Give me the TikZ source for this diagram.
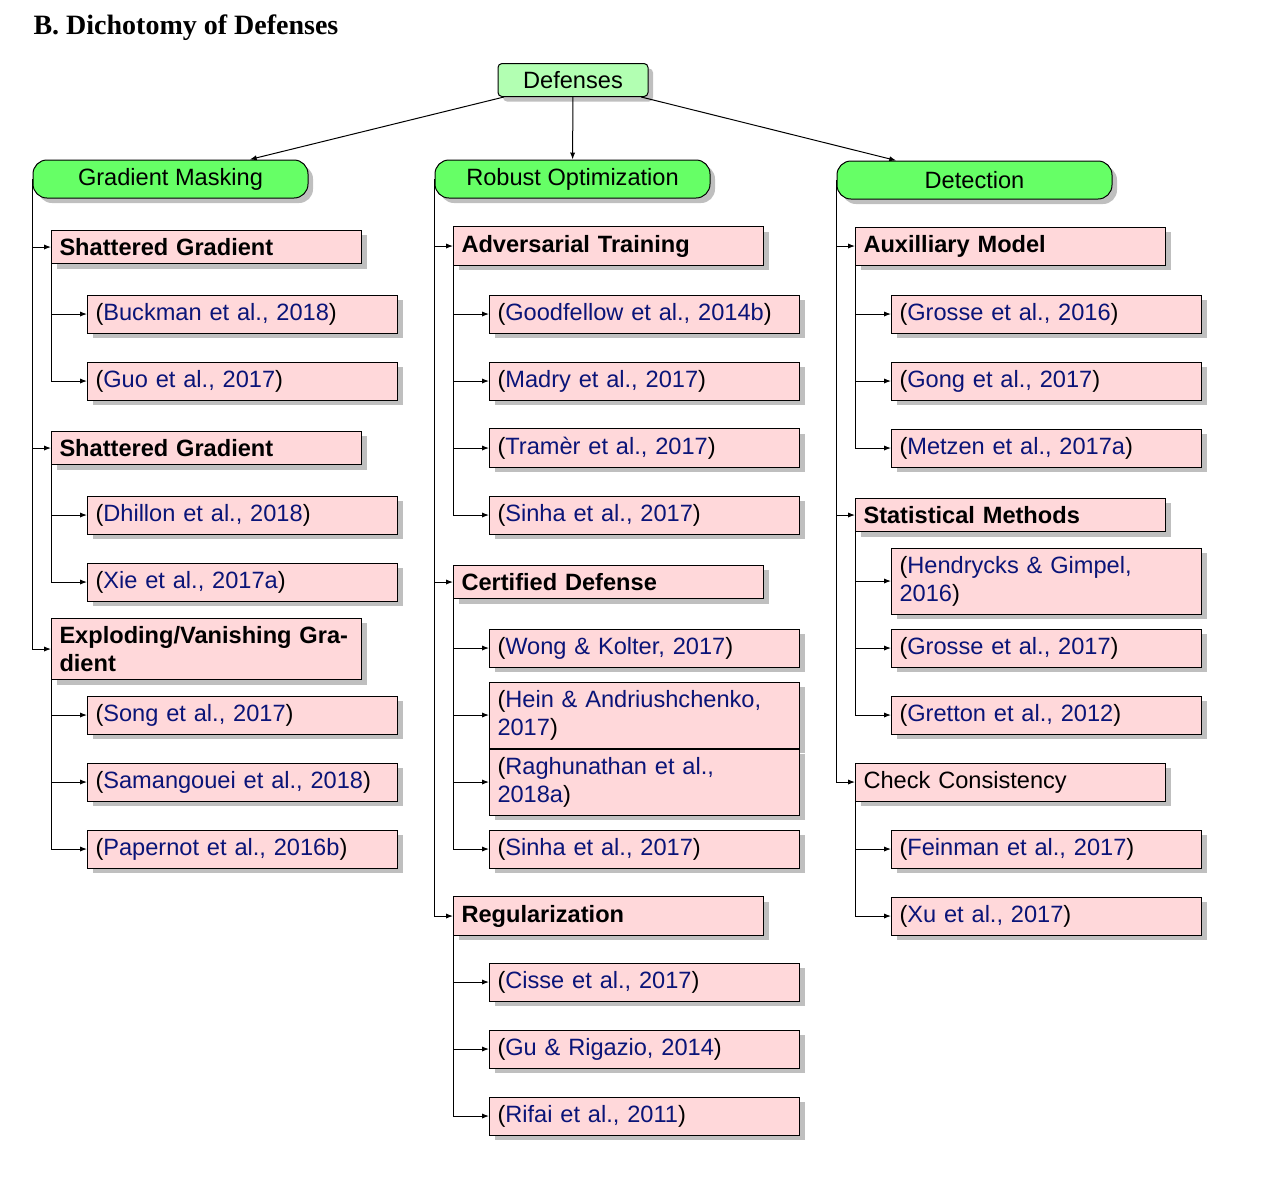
\documentclass[tikz,border=0pt]{standalone}
\usepackage{fontspec}
\setmainfont{Liberation Sans}
\newfontfamily\titlefont{Liberation Serif}
\usetikzlibrary{shadows,arrows.meta}

\definecolor{rootgreen}{RGB}{178,255,178}
\definecolor{catgreen}{RGB}{102,255,102}
\definecolor{boxpink}{RGB}{255,216,218}
\definecolor{citeblue}{RGB}{10,20,120}
\newcommand{\citeit}[1]{(\textcolor{citeblue}{#1})}
\newcommand{\boxfont}{\fontsize{11.8pt}{14pt}\selectfont}

\tikzset{
  shade box/.style={drop shadow={shadow xshift=2.5pt,shadow yshift=-2.5pt,fill=black!25,opacity=1}},
  root/.style={draw,fill=rootgreen,rounded corners=2pt,minimum width=75pt,minimum height=16.5pt,shade box},
  cat/.style={draw,fill=catgreen,rounded corners=7pt,minimum width=137.5pt,minimum height=19pt,shade box},
  sub/.style={draw,fill=boxpink,anchor=west,inner sep=4pt,text width=147pt,align=left,font=\boxfont\bfseries,shade box},
  subplain/.style={sub,font=\boxfont},
  leaf/.style={draw,fill=boxpink,anchor=west,inner sep=4pt,text width=147pt,align=left,shade box},
  arr/.style={-{Latex[length=3.5pt,width=2.6pt]},line width=0.5pt}
}

\begin{document}
\begin{tikzpicture}[x=0.5pt,y=-0.5pt,line width=0.5pt,font=\boxfont]
  \useasboundingbox (0,0) rectangle (1274,1180);

  \node[anchor=west,inner sep=0pt,font=\titlefont\bfseries\fontsize{14pt}{16pt}\selectfont] (title) at (33,28) {B. Dichotomy of Defenses};

  % root and the three families
  \node[root] (def) at (573,80) {Defenses};
  \node[cat] (gm) at (170.5,179) {Gradient Masking};
  \node[cat] (ro) at (572.5,179) {Robust Optimization};
  \node[cat] (det) at (974.5,180) {Detection};
  \foreach \c in {gm,ro,det}
    \draw[arr] (def) -- (\c);

  % second level
  \foreach \n/\p/\x/\y/\t in {sg1/gm/51/247/{Shattered Gradient},
                              sg2/gm/51/448/{Shattered Gradient},
                              evg/gm/51/649/{Exploding/Vanishing Gra-\\dient},
                              at/ro/453/246/{Adversarial Training},
                              cd/ro/453/582/{Certified Defense},
                              reg/ro/453/916/{Regularization},
                              aux/det/855/246/{Auxilliary Model},
                              stat/det/855/515/{Statistical Methods}}
  {
    \node[sub] (\n) at (\x,\y) {\t};
    \draw[arr] (\p.west) |- (\n.west);
  }
  \node[subplain] (cc) at (855,782) {Check Consistency};
  \draw[arr] (det.west) |- (cc.west);

  % references
  \foreach \n/\p/\x/\y/\t in {buckman/sg1/87/314/{Buckman et al., 2018},
                              guo/sg1/87/381/{Guo et al., 2017},
                              dhillon/sg2/87/515/{Dhillon et al., 2018},
                              xie/sg2/87/582/{Xie et al., 2017a},
                              song/evg/87/715/{Song et al., 2017},
                              samang/evg/87/782/{Samangouei et al., 2018},
                              papernot/evg/87/849/{Papernot et al., 2016b},
                              goodfellow/at/489/314/{Goodfellow et al., 2014b},
                              madry/at/489/381/{Madry et al., 2017},
                              tramer/at/489/448/{Tramèr et al., 2017},
                              sinhaA/at/489/515/{Sinha et al., 2017},
                              wong/cd/489/648/{Wong \& Kolter, 2017},
                              hein/cd/489/715/{Hein \& Andriushchenko,\\2017},
                              ragh/cd/489/782/{Raghunathan et al.,\\2018a},
                              sinhaB/cd/489/849/{Sinha et al., 2017},
                              cisse/reg/489/982/{Cisse et al., 2017},
                              gu/reg/489/1049/{Gu \& Rigazio, 2014},
                              rifai/reg/489/1116/{Rifai et al., 2011},
                              grosseA/aux/891/314/{Grosse et al., 2016},
                              gong/aux/891/381/{Gong et al., 2017},
                              metzen/aux/891/448/{Metzen et al., 2017a},
                              hend/stat/891/581/{Hendrycks \& Gimpel,\\2016},
                              grosseB/stat/891/648/{Grosse et al., 2017},
                              gretton/stat/891/715/{Gretton et al., 2012},
                              feinman/cc/891/849/{Feinman et al., 2017},
                              xu/cc/891/916/{Xu et al., 2017}}
  {
    \node[leaf] (\n) at (\x,\y) {\citeit{\t}};
    \draw[arr] (\p.south west) |- (\n.west);
  }
\end{tikzpicture}
\end{document}
